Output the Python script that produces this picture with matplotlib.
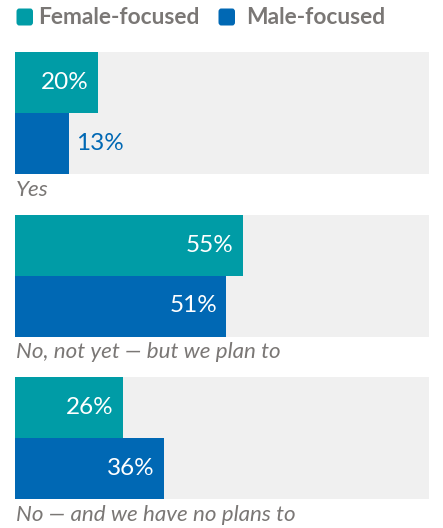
import matplotlib
matplotlib.use("Agg")
import matplotlib.pyplot as plt
from matplotlib.patches import FancyBboxPatch

categories = ["Yes", "No, not yet \u2014 but we plan to", "No \u2014 and we have no plans to"]
female = [20, 55, 26]
male = [13, 51, 36]
series_names = ["Female-focused", "Male-focused"]

TEAL = "#009ca6"
BLUE = "#0068b4"
BG = "#f0f0f0"
GREY_TEXT = "#7a7775"

plt.rcParams["font.family"] = ["Lato", "DejaVu Sans"]

W, H = 443, 528
fig = plt.figure(figsize=(W / 100, H / 100), dpi=100)

# axes in pixel terms: left 15, right 429, top 52, bottom 499
left, right, top, bottom = 15, 429, 52, 499
ax = fig.add_axes([left / W, 1 - bottom / H, (right - left) / W, (bottom - top) / H])
span = bottom - top
ax.set_xlim(0, 100)
ax.set_ylim(span, 0)
ax.axis("off")

step = 162.5
bar_h = 61
for i, (cat, f, m) in enumerate(zip(categories, female, male)):
    base = i * step
    ax.barh(base + bar_h, 100, height=2 * bar_h, color=BG, left=0, zorder=1)
    for val, yc, col in ((f, base + bar_h / 2, TEAL), (m, base + 1.5 * bar_h, BLUE)):
        ax.barh(yc, val, height=bar_h, color=col, zorder=2)
        if val >= 15:
            ax.annotate(f"{val}%", (val, yc), xytext=(-6.5, 0), textcoords="offset points",
                        ha="right", va="center", color="white", fontsize=17.5, zorder=3)
        else:
            ax.annotate(f"{val}%", (val, yc), xytext=(5.5, 0), textcoords="offset points",
                        ha="left", va="center", color=col, fontsize=17.5, zorder=3)
    ax.text(0.3, base + 2 * bar_h + 16, cat, ha="left", va="center", style="italic",
            color=GREY_TEXT, fontsize=16.1, clip_on=False)

# legend drawn across the top
def legend_item(x_sq, x_txt, color, label):
    sq = FancyBboxPatch((x_sq / W, 1 - 25.5 / H), 16.5 / W, 17 / H,
                        boxstyle="round,pad=0,rounding_size=0.006",
                        transform=fig.transFigure, facecolor=color, edgecolor="none")
    fig.patches.append(sq)
    fig.text(x_txt / W, 1 - 17.5 / H, label, ha="left", va="center", color=GREY_TEXT,
             fontsize=16.4, fontweight="bold")

legend_item(16.5, 38, TEAL, series_names[0])
legend_item(218.5, 246, BLUE, series_names[1])

fig.savefig("out.png", dpi=100)
